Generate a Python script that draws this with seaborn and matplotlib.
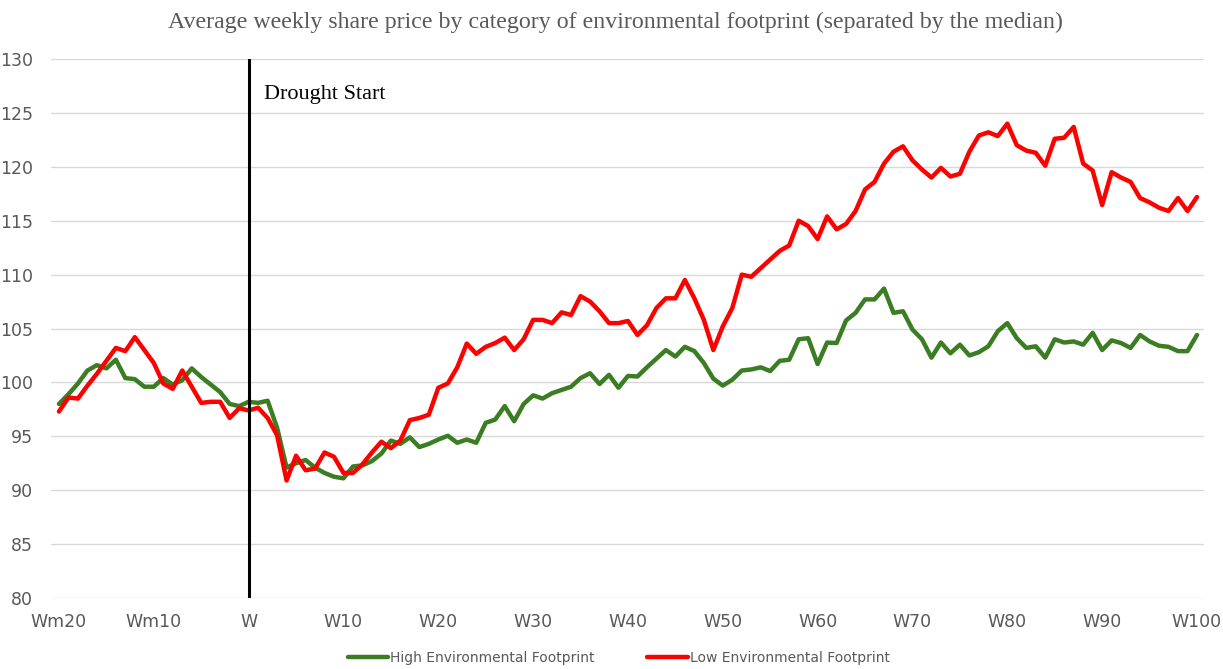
import pandas as pd
import matplotlib.pyplot as plt
import seaborn as sns
import numpy as np

# weeks relative to drought start (Wm20 ... W100)
weeks = list(range(-20, 101))

high_fp = [98.0, 98.9, 99.9, 101.1, 101.6, 101.3, 102.1, 100.4, 100.3, 99.6,
           99.6, 100.4, 99.8, 100.2, 101.3, 100.5, 99.8, 99.1, 98.0, 97.8,
           98.2,
           98.1, 98.3, 95.8, 92.1, 92.5, 92.8, 92.1, 91.6, 91.25, 91.1,
           92.2, 92.3, 92.7, 93.4, 94.6, 94.3, 94.9, 94.0, 94.3, 94.7,
           95.05, 94.4, 94.7, 94.4, 96.25, 96.55, 97.8, 96.4, 98.0, 98.8,
           98.5, 99.0, 99.3, 99.6, 100.4, 100.85, 99.85, 100.7, 99.5, 100.6,
           100.55, 101.4, 102.2, 103.0, 102.4, 103.3, 102.9, 101.8, 100.35, 99.7,
           100.25, 101.1, 101.2, 101.4, 101.05, 102.0, 102.1, 104.0, 104.1, 101.7,
           103.7, 103.65, 105.75, 106.45, 107.7, 107.7, 108.7, 106.45, 106.6, 104.9,
           104.0, 102.3, 103.7, 102.7, 103.5, 102.5, 102.8, 103.35, 104.75, 105.5,
           104.1, 103.2, 103.35, 102.3, 104.0, 103.7, 103.8, 103.5, 104.6, 103.0,
           103.9, 103.65, 103.2, 104.4, 103.8, 103.4, 103.3, 102.9, 102.9, 104.4]

low_fp = [97.3, 98.6, 98.5, 99.7, 100.8, 102.0, 103.2, 102.9, 104.2, 103.0,
          101.8, 99.9, 99.4, 101.1, 99.6, 98.1, 98.2, 98.2, 96.7, 97.6,
          97.4,
          97.65, 96.7, 95.1, 90.9, 93.2, 91.85, 92.0, 93.5, 93.1, 91.6,
          91.6, 92.4, 93.5, 94.5, 93.9, 94.6, 96.5, 96.7, 97.0, 99.5,
          99.9, 101.4, 103.6, 102.65, 103.3, 103.65, 104.15, 103.0, 104.0, 105.8,
          105.8, 105.5, 106.5, 106.25, 108.0, 107.5, 106.6, 105.5, 105.5, 105.7,
          104.4, 105.3, 106.9, 107.8, 107.8, 109.5, 107.8, 105.8, 103.0, 105.2,
          106.9, 110.0, 109.8, 110.6, 111.4, 112.2, 112.7, 115.0, 114.5, 113.3,
          115.4, 114.2, 114.7, 115.9, 117.9, 118.6, 120.3, 121.4, 121.9, 120.6,
          119.75, 119.0, 119.9, 119.1, 119.35, 121.4, 122.9, 123.2, 122.85, 124.0,
          122.0, 121.5, 121.3, 120.1, 122.6, 122.7, 123.7, 120.3, 119.65, 116.45,
          119.5, 119.0, 118.6, 117.1, 116.7, 116.2, 115.9, 117.1, 115.9, 117.2]

tick_pos = list(range(-20, 101, 10))
tick_labels = ['Wm20', 'Wm10', 'W', 'W10', 'W20', 'W30', 'W40', 'W50',
               'W60', 'W70', 'W80', 'W90', 'W100']

df = pd.DataFrame({
    'week': weeks * 2,
    'price': high_fp + low_fp,
    'group': ['High Environmental Footprint'] * len(weeks)
             + ['Low Environmental Footprint'] * len(weeks),
})

sns.set_style('white')
plt.rcParams['font.family'] = ['DejaVu Sans Condensed', 'DejaVu Sans']

fig = plt.figure(figsize=(12.23, 6.69), dpi=100)
ax = fig.add_axes([51 / 1223, 1 - 598 / 669, (1204 - 51) / 1223, (598 - 59) / 669])

pal = {'High Environmental Footprint': '#3B7D23',
       'Low Environmental Footprint': '#FF0000'}
sns.lineplot(data=df, x='week', y='price', hue='group', palette=pal,
             linewidth=3.2, ax=ax)

# drought start marker
ax.axvline(0, color='black', linewidth=2.2, zorder=5)
ax.text(1.6, 126.7, 'Drought Start', va='center', ha='left', fontsize=16,
        family=['Liberation Serif', 'DejaVu Serif'], color='black')

ax.set_xlim(-20.84, 100.74)
ax.set_ylim(80, 130)
ax.set_yticks(range(80, 131, 5))
ax.set_xticks(tick_pos)
ax.set_xticklabels(tick_labels)
ax.set_xlabel('')
ax.set_ylabel('')
ax.grid(axis='y', color='#d9d9d9', linewidth=1)
ax.set_axisbelow(True)
for s in ax.spines.values():
    s.set_visible(False)
ax.tick_params(axis='both', length=0, labelsize=12.5, colors='#595959')
ax.tick_params(axis='y', pad=13)
ax.tick_params(axis='x', pad=11)

fig.text(0.503, 1 - 22 / 669,
         'Average weekly share price by category of environmental footprint (separated by the median)',
         ha='center', va='center', fontsize=17.2, color='#595959',
         family=['Liberation Serif', 'DejaVu Serif'])

ax.legend_.remove()
handles, labels = ax.get_legend_handles_labels()
fig.legend(handles, labels, loc='center', bbox_to_anchor=(0.506, 0.017), ncol=2,
           frameon=False, fontsize=10, handlelength=2.9, columnspacing=3.8,
           handletextpad=0.15, labelcolor='#595959')

fig.savefig('out.png', dpi=100)
